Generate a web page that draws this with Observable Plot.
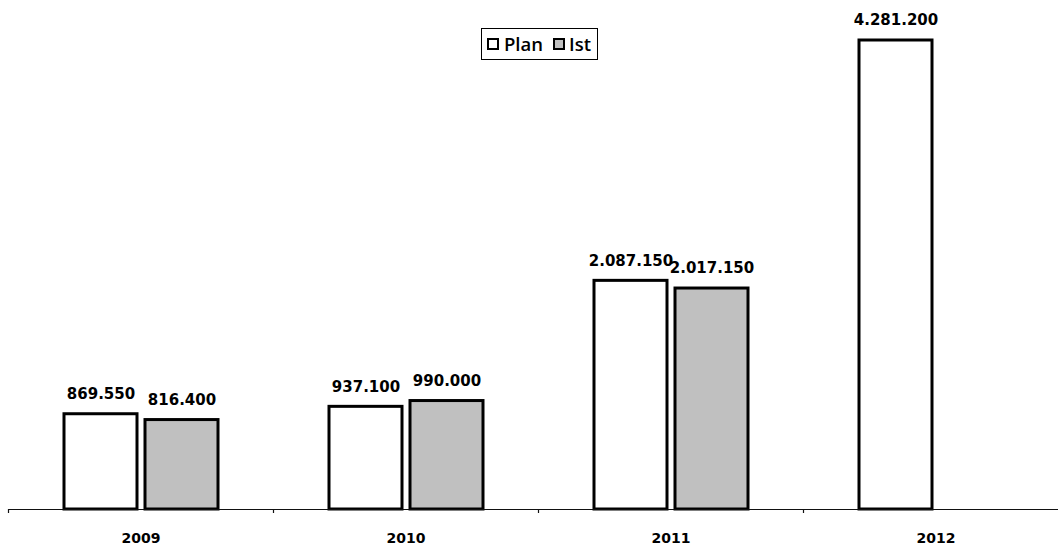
<!DOCTYPE html>
<html>
<head>
<meta charset="utf-8">
<script src="https://cdn.jsdelivr.net/npm/d3@7"></script>
<script src="https://cdn.jsdelivr.net/npm/@observablehq/plot@0.6"></script>
<style>
  html, body { margin: 0; padding: 0; background: #fff; overflow: hidden; }
  #wrap { position: relative; width: 1058px; height: 547px; }
  #legend {
    position: absolute; left: 481px; top: 28px; width: 115px; height: 30px;
    border: 1px solid #000; box-sizing: content-box;
    display: flex; align-items: center; justify-content: flex-start; padding-left: 0;
    font-family: "Open Sans", sans-serif; font-weight: 600; font-size: 18.5px; color: #000;
    line-height: 1;
  }
  #legend .sw { display: inline-block; width: 8px; height: 8px; border: 2.5px solid #000; }
  #legend .item { display: flex; align-items: center; }
</style>
</head>
<body>
<div id="wrap">
  <div id="chart"></div>
  <div id="legend">
    <span class="item" style="margin-left:5px"><span class="sw" style="background:#fff;margin-right:5px"></span>Plan</span>
    <span class="item" style="margin-left:10px"><span class="sw" style="background:#c0c0c0;margin-right:4px"></span>Ist</span>
  </div>
</div>
<script>
const years = ["2009", "2010", "2011", "2012"];
const planValues = [869550, 937100, 2087150, 4281200];
const istValues = [816400, 990000, 2017150, null];

const de = d3.formatLocale({decimal: ",", thousands: ".", grouping: [3], currency: ["", "€"]});
const fmt = de.format(",d");

const plan = years.map((year, i) => ({year, value: planValues[i]}));
const ist = years.map((year, i) => ({year, value: istValues[i]})).filter(d => d.value != null);

const chart = Plot.plot({
  width: 1058,
  height: 547,
  marginLeft: 8,
  marginRight: 0,
  marginTop: 40,
  marginBottom: 38,
  style: {fontFamily: "DejaVu Sans", background: "#fff", color: "#000"},
  x: {type: "band", domain: years, range: [8, 1068], padding: 0, axis: null},
  y: {domain: [0, 4281200], axis: null},
  marks: [
    Plot.barY(plan, {x: "year", y: "value", fill: "white", stroke: "black", strokeWidth: 3, insetLeft: 56, insetRight: 136}),
    Plot.barY(ist, {x: "year", y: "value", fill: "#c0c0c0", stroke: "black", strokeWidth: 3, insetLeft: 137, insetRight: 55}),
    Plot.ruleY([0], {stroke: "#111", strokeWidth: 1}),
    Plot.ruleX(years, {x: d => d, dx: -132.5, insetTop: 469, insetBottom: -4, stroke: "#111", strokeWidth: 1.2}),
    Plot.axisX({tickSize: 0, tickPadding: 24, fontSize: 14, fontWeight: "bold", label: null}),
    Plot.text(plan, {x: "year", y: "value", text: d => fmt(d.value), dx: -40, dy: -20, fontSize: 15, fontWeight: "bold"}),
    Plot.text(ist, {x: "year", y: "value", text: d => fmt(d.value), dx: 41, dy: -20, fontSize: 15, fontWeight: "bold"})
  ]
});
document.getElementById("chart").appendChild(chart);
</script>
</body>
</html>
